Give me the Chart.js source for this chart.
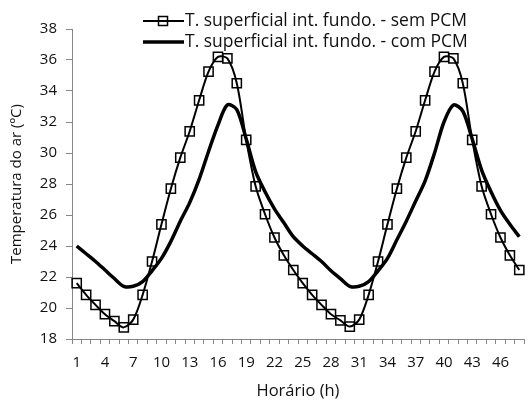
<!DOCTYPE html>
<html>
<head>
<meta charset="utf-8">
<script src="https://cdn.jsdelivr.net/npm/chart.js@4.4.0/dist/chart.umd.min.js"></script>
<style>
  html, body { margin: 0; padding: 0; background: #fff; }
  #wrap { width: 532px; height: 401px; }
</style>
</head>
<body>
<div id="wrap"><canvas id="tempChart" width="532" height="401"></canvas></div>
<script>
const hours = [1, 2, 3, 4, 5, 6, 7, 8, 9, 10, 11, 12, 13, 14, 15, 16, 17, 18, 19, 20, 21, 22, 23, 24,
    25, 26, 27, 28, 29, 30, 31, 32, 33, 34, 35, 36, 37, 38, 39, 40, 41, 42, 43, 44, 45, 46, 47, 48];

const semPCM = [21.6, 20.85, 20.2, 19.6, 19.15, 18.75, 19.25, 20.85, 23.0, 25.4, 27.7, 29.7,
    31.4, 33.4, 35.25, 36.2, 36.1, 34.5, 30.85, 27.85, 26.05, 24.55, 23.4, 22.45,
    21.6, 20.85, 20.2, 19.6, 19.2, 18.8, 19.25, 20.85, 23.0, 25.4, 27.7, 29.7,
    31.4, 33.4, 35.25, 36.2, 36.1, 34.5, 30.85, 27.85, 26.05, 24.55, 23.4, 22.45];

const comPCM = [24.0, 23.5, 23.0, 22.45, 21.9, 21.4, 21.4, 21.7, 22.4, 23.2, 24.3, 25.6,
    26.8, 28.3, 30.1, 31.8, 33.1, 32.8, 30.9, 28.8, 27.5, 26.4, 25.5, 24.6,
    24.0, 23.5, 23.0, 22.4, 21.9, 21.4, 21.4, 21.7, 22.4, 23.2, 24.4, 25.6,
    26.9, 28.2, 30.0, 32.0, 33.1, 32.7, 30.9, 28.9, 27.5, 26.3, 25.4, 24.6];

const seriesLabels = [
    'T. superficial int. fundo. - sem PCM',
    'T. superficial int. fundo. - com PCM'
];

const yTicks = [18, 20, 22, 24, 26, 28, 30, 32, 34, 36, 38];

const FONT = '"Open Sans", sans-serif';
const AXIS = '#868686';
const TEXT = '#111';

// legend drawn by hand so it can sit over the plot like the original
const manualLegend = {
    id: 'manualLegend',
    afterDraw: (chart) => {
        const ctx = chart.ctx;
        const rows = [
            { y: 21, width: 2, square: true },
            { y: 42, width: 3.5, square: false }
        ];
        ctx.save();
        rows.forEach((row, i) => {
            ctx.strokeStyle = '#000';
            ctx.lineWidth = row.width;
            ctx.beginPath();
            ctx.moveTo(143, row.y);
            ctx.lineTo(184, row.y);
            ctx.stroke();
            if (row.square) {
                ctx.lineWidth = 1.5;
                ctx.strokeRect(158.5, row.y - 4.5, 9, 9);
            }
            ctx.fillStyle = TEXT;
            ctx.font = '17.5px ' + FONT;
            ctx.textBaseline = 'middle';
            ctx.textAlign = 'left';
            ctx.fillText(chart.data.datasets[i].label, 185, row.y);
        });
        ctx.restore();
    }
};

const data = {
    labels: hours,
    datasets: [{
        label: seriesLabels[0],
        data: semPCM,
        borderColor: '#000',
        borderWidth: 2,
        pointStyle: 'rect',
        pointRadius: 6.5,
        pointBorderWidth: 1.5,
        pointBorderColor: '#000',
        pointBackgroundColor: 'rgba(0,0,0,0)',
        tension: 0.3
    }, {
        label: seriesLabels[1],
        data: comPCM,
        borderColor: '#000',
        borderWidth: 3.5,
        pointRadius: 0,
        tension: 0.3
    }]
};

const config = {
    type: 'line',
    data: data,
    plugins: [manualLegend],
    options: {
        responsive: false,
        animation: false,
        layout: { padding: { top: 29, right: 0, left: 0, bottom: 0 } },
        plugins: {
            legend: { display: false },
            tooltip: { enabled: false }
        },
        scales: {
            x: {
                type: 'category',
                offset: true,
                afterFit: (scale) => { scale.height = 62; },
                grid: {
                    offset: true,
                    drawOnChartArea: false,
                    color: AXIS,
                    tickLength: 5
                },
                border: { color: AXIS, width: 1 },
                ticks: {
                    autoSkip: false,
                    maxRotation: 0,
                    padding: 10,
                    color: TEXT,
                    font: { family: FONT, size: 15 },
                    callback: function (value, index) {
                        return index % 3 === 0 ? this.getLabelForValue(value) : '';
                    }
                },
                title: {
                    display: true,
                    text: 'Horário (h)',
                    color: TEXT,
                    font: { family: FONT, size: 16.5 },
                    padding: { top: 2, bottom: 0 }
                }
            },
            y: {
                min: yTicks[0],
                max: yTicks[yTicks.length - 1],
                afterFit: (scale) => { scale.width = 72; },
                afterBuildTicks: (scale) => {
                    scale.ticks = yTicks.map(v => ({ value: v }));
                },
                grid: {
                    drawOnChartArea: false,
                    color: AXIS,
                    tickLength: 6
                },
                border: { color: AXIS, width: 1 },
                ticks: {
                    padding: 9,
                    color: TEXT,
                    font: { family: FONT, size: 15 }
                },
                title: {
                    display: true,
                    text: 'Temperatura do ar (ºC)',
                    color: TEXT,
                    font: { family: FONT, size: 15 },
                    padding: { top: 8, bottom: 4 }
                }
            }
        }
    }
};

const tempChart = new Chart(document.getElementById('tempChart'), config);
</script>
</body>
</html>
